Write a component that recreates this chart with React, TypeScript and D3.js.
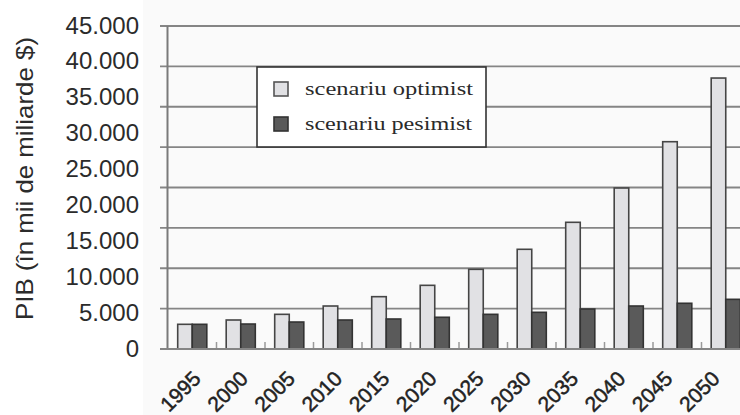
import React from "react";
import * as d3 from "d3";

const years = ["1995","2000","2005","2010","2015","2020","2025","2030","2035","2040","2045","2050"];
const optimist = [3440, 4040, 4830, 5990, 7290, 8870, 11100, 13890, 17650, 22430, 28880, 37750];
const pessimist = [3440, 3480, 3760, 4040, 4180, 4420, 4830, 5110, 5570, 5990, 6370, 6920];
const yTickValues = [0, 5000, 10000, 15000, 20000, 25000, 30000, 35000, 40000, 45000];
const yTickLabels = ["0", "5.000", "10.000", "15.000", "20.000", "25.000", "30.000", "35.000", "40.000", "45.000"];
const seriesNames = ["scenariu optimist", "scenariu pesimist"];
const yTitle = "PIB  (în mii de miliarde $)";
const gridCount = 8;

const W = 740, H = 415;

export default function App() {
  const y = d3.scaleLinear().domain([0, 45000]).range([349, 26]);
  const x = d3.scaleBand().domain(years).range([168, 750]).paddingInner(0.4).paddingOuter(0.2);
  const inner = d3.scaleBand().domain(["o", "p"]).range([0, x.bandwidth()]);
  const labelX = d3.scalePoint().domain(years).range([202, 721]);
  const gridVals = d3.range(gridCount + 1).map((i) => (45000 * i) / gridCount);
  const step = x.step();
  const bw = x.bandwidth();

  const optFill = "#e1e1e4";
  const pesFill = "#5a5a5a";
  const barStroke = "#454545";

  return (
    <svg width={W} height={H} style={{ position: "absolute", left: 0, top: 0 }} xmlns="http://www.w3.org/2000/svg">
      <rect x={0} y={0} width={W} height={H} fill="#ffffff" />
      <rect x={143} y={0} width={W - 143} height={H} fill="#fafafa" />
      {gridVals.map((v, i) => (
        <line key={"g" + i} x1={160} x2={W} y1={y(v)} y2={y(v)} stroke="#858585" strokeWidth={1.8} />
      ))}
      <line x1={167.5} x2={167.5} y1={y(45000)} y2={y(0)} stroke="#7a7a7a" strokeWidth={2} />
      {years.slice(0, -1).map((yr, i) => {
        const sx = (x(yr) as number) + bw + (step - bw) / 2;
        return <line key={"s" + i} x1={sx} x2={sx} y1={y(0) - 7} y2={y(0)} stroke="#9a9a9a" strokeWidth={1.5} />;
      })}
      {years.map((yr, i) => {
        const x0 = x(yr) as number;
        return (
          <g key={"b" + yr}>
            <rect x={x0 + (inner("o") as number)} y={y(optimist[i])} width={inner.bandwidth()} height={y(0) - y(optimist[i])}
              fill={optFill} stroke={barStroke} strokeWidth={1.6} />
            <rect x={x0 + (inner("p") as number)} y={y(pessimist[i])} width={inner.bandwidth()} height={y(0) - y(pessimist[i])}
              fill={pesFill} stroke="#333" strokeWidth={1.6} />
          </g>
        );
      })}
      <line x1={160} x2={W} y1={y(0)} y2={y(0)} stroke="#858585" strokeWidth={1.8} />
      {yTickValues.map((v, i) => (
        <text key={"t" + i} x={139} y={y(v) - 1} textAnchor="end" dominantBaseline="central"
          fontFamily="Liberation Sans, Arial, sans-serif" fontSize={24} fill="#2b2b2b">{yTickLabels[i]}</text>
      ))}
      <text transform={`translate(33, ${(37 + 320) / 2}) rotate(-90)`} textAnchor="middle"
        fontFamily="Liberation Sans, Arial, sans-serif" fontSize={24} fill="#2b2b2b" textLength={283} lengthAdjust="spacingAndGlyphs">{yTitle}</text>
      {years.map((yr) => (
        <text key={"x" + yr} transform={`translate(${labelX(yr)}, 380) rotate(-45)`} textAnchor="end"
          fontFamily="Liberation Sans, Arial, sans-serif" fontSize={21} fill="#222" stroke="#222" strokeWidth={0.5}>{yr}</text>
      ))}
      <rect x={257} y={67} width={229} height={80} fill="#ffffff" stroke="#333" strokeWidth={1.6} />
      <rect x={274} y={82} width={14} height={14} fill={optFill} stroke="#555" strokeWidth={1.6} />
      <rect x={274} y={117} width={14} height={14} fill={pesFill} stroke="#333" strokeWidth={1.6} />
      <text x={305} y={95} fontFamily="Liberation Serif, Times New Roman, serif" fontSize={19} fill="#2a2a2a"
        textLength={168} lengthAdjust="spacingAndGlyphs">{seriesNames[0]}</text>
      <text x={305} y={130} fontFamily="Liberation Serif, Times New Roman, serif" fontSize={19} fill="#2a2a2a"
        textLength={167} lengthAdjust="spacingAndGlyphs">{seriesNames[1]}</text>
    </svg>
  );
}
